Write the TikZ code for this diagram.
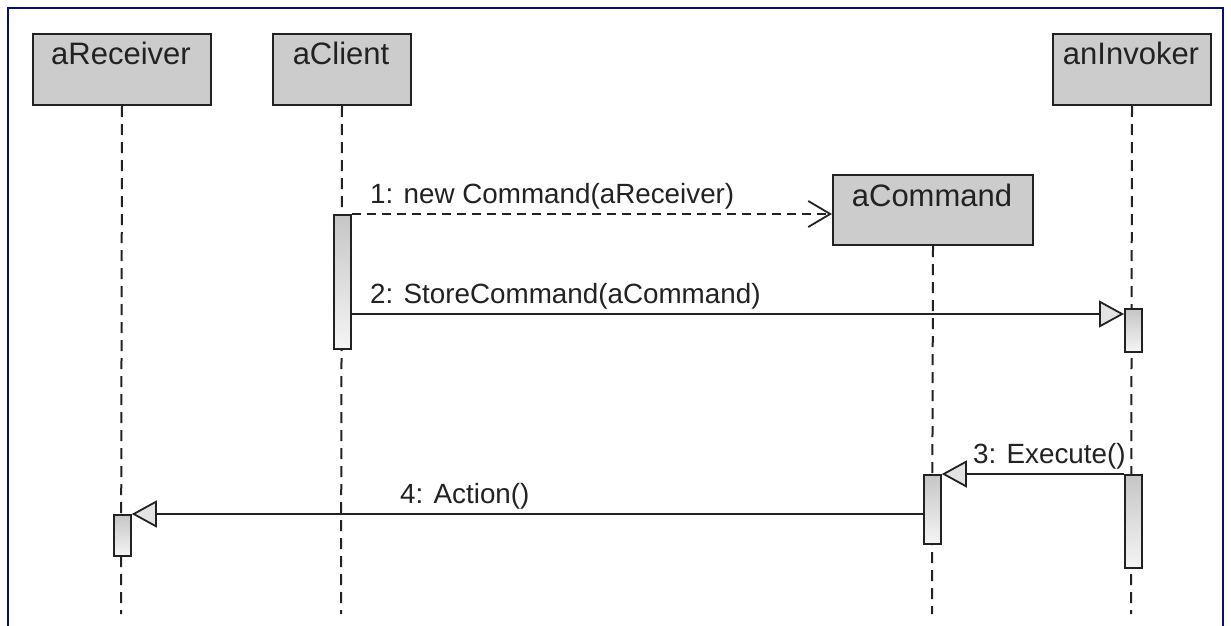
\documentclass[tikz,border=0pt]{standalone}
\usepackage{fontspec}
\setmainfont{Liberation Sans}
\usetikzlibrary{arrows.meta,calc}
\definecolor{frame}{HTML}{0A0A80}
\definecolor{boxfill}{HTML}{CCCCCC}
\definecolor{ink}{HTML}{222222}
\begin{document}
\begin{tikzpicture}[x=1pt,y=-1pt,
  obj/.style={draw=ink, line width=2pt, fill=boxfill, inner sep=0pt, anchor=north west},
  objtext/.style={text=ink, font=\fontsize{31}{34}\selectfont, anchor=base, inner sep=0pt},
  life/.style={draw=ink, line width=2pt, dash pattern=on 11pt off 7pt},
  bar/.style={draw=ink, line width=1.8pt, top color=gray!45, bottom color=gray!8, inner sep=0pt, minimum width=17pt, anchor=north west},
  msg/.style={draw=ink, line width=1.9pt},
  tri/.style={-{Triangle[length=25pt,width=27pt,fill=gray!22,line width=1.8pt]}},
  barb/.style={-{Straight Barb[length=22pt,width=26pt,line width=1.8pt]}},
  lbl/.style={text=ink, font=\fontsize{27.8}{30}\selectfont, anchor=base west, inner sep=0pt}]
\useasboundingbox (0,0) rectangle (1231,626);
\fill[white] (0,0) rectangle (1231,626);
\draw[frame, line width=2.6pt] (8,640) -- (8,8) -- (1223,8) -- (1223,640);

% objects
\node[obj, minimum width=178pt, minimum height=71pt] (rcv) at (32,33) {};
\node[obj, minimum width=138pt, minimum height=71pt] (cli) at (272,33) {};
\node[obj, minimum width=158pt, minimum height=71pt] (inv) at (1052,33) {};
\node[obj, minimum width=200pt, minimum height=70pt] (cmd) at (832,174) {};
\node[objtext] (rcvt) at (121,65) {aReceiver};
\node[objtext] (clit) at (341,65) {aClient};
\node[objtext] (invt) at (1131,65) {anInvoker};
\node[objtext] (cmdt) at (932,206) {aCommand};

% lifelines
\coordinate (rcvend) at (121,614);
\coordinate (cliend) at (341,614);
\coordinate (invend) at (1131,614);
\coordinate (cmdend) at (932,614);
\draw[life] (rcv.south) -- (rcvend);
\draw[life] (cli.south) -- (cliend);
\draw[life] (inv.south) -- (invend);
\draw[life] (cmd.south) -- (cmdend);

% activation bars
\node[bar, minimum height=134pt] (cbar) at (333,214) {};
\node[bar, minimum height=43pt] (ibar1) at (1124,308) {};
\node[bar, minimum height=69pt] (mbar) at (923,474) {};
\node[bar, minimum height=93pt] (ibar2) at (1124,474) {};
\node[bar, minimum height=41pt] (rbar) at (113,514) {};

% messages
\draw[msg, barb, dash pattern=on 9pt off 6pt] (cbar.north east) -- (cbar.north east -| cmd.west);
\node[lbl] (l1) at (370,203) {1: new Command(aReceiver)};

\coordinate (m2s) at ($(cbar.north east)+(0,100)$);
\draw[msg, tri] (m2s) -- (m2s -| ibar1.west);
\node[lbl] (l2) at (370,303) {2: StoreCommand(aCommand)};

\draw[msg, tri] (ibar2.north west) -- (mbar.north east);
\node[lbl] (l3) at (973,463) {3: Execute()};

\coordinate (m4s) at ($(mbar.north west)+(0,40)$);
\draw[msg, tri] (m4s) -- (m4s -| rbar.east);
\node[lbl] (l4) at (400,503) {4: Action()};
\end{tikzpicture}
\end{document}
